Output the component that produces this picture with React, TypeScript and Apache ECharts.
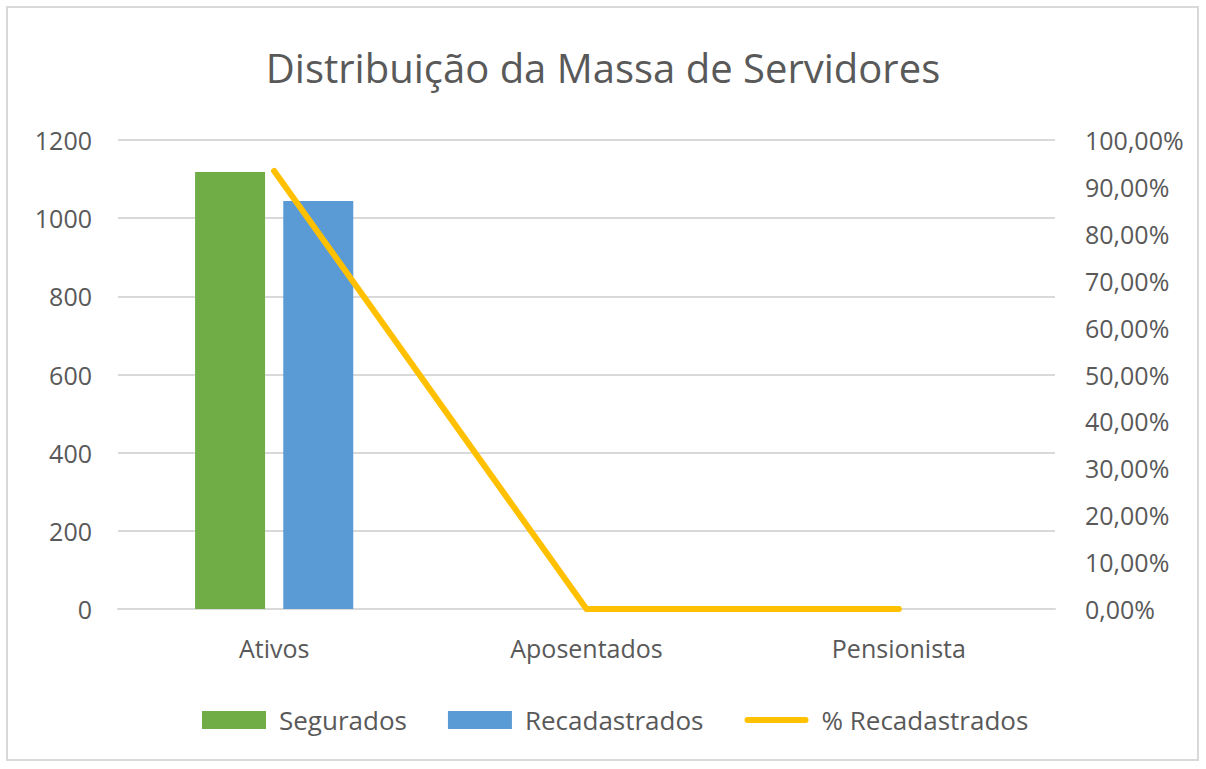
import React, { useEffect, useRef } from "react";
import * as echarts from "echarts";

const categories = ["Ativos", "Aposentados", "Pensionista"];
const segurados = [1118, 0, 0];
const recadastrados = [1044, 0, 0];
const pctRecadastrados = [93.4, 0, 0];
const leftTicks = { min: 0, max: 1200, interval: 200 };
const rightTicks = { min: 0, max: 100, interval: 10 };

const FONT = "'Open Sans', sans-serif";
const GRAY = "#595959";
const LBL = 25;

export default function App() {
  const ref = useRef<HTMLDivElement>(null);
  useEffect(() => {
    const chart = echarts.init(ref.current!, null, { renderer: "svg" });
    chart.setOption({
      animation: false,
      backgroundColor: "#ffffff",
      textStyle: { fontFamily: FONT, color: GRAY },
      title: {
        text: "Distribuição da Massa de Servidores",
        left: "center",
        top: 42,
        textStyle: { fontFamily: FONT, fontSize: 40, fontWeight: "normal", color: GRAY },
      },
      graphic: [
        {
          type: "rect",
          shape: { x: 7, y: 7, width: 1191, height: 753 },
          style: { fill: "none", stroke: "#d9d9d9", lineWidth: 2 },
          silent: true,
        },
      ],
      grid: { left: 118, right: 151, top: 140, bottom: 160 },
      legend: {
        bottom: 31,
        left: 197,
        itemWidth: 64,
        itemHeight: 18,
        itemGap: 41,
        textStyle: { fontFamily: FONT, fontSize: 26, color: GRAY, padding: [0, 0, 0, 8] },
        data: [
          { name: "Segurados", icon: "rect" },
          { name: "Recadastrados", icon: "rect" },
          {
            name: "% Recadastrados",
            icon: "path://M3,0 L61,0 A3,3 0 0 1 61,6 L3,6 A3,3 0 0 1 3,0 Z",
            itemStyle: { color: "#FFC000" },
          },
        ],
      },
      xAxis: {
        type: "category",
        data: categories,
        axisLine: { lineStyle: { color: "#d9d9d9", width: 2 } },
        axisTick: { show: false },
        axisLabel: { fontFamily: FONT, fontSize: LBL, color: GRAY, margin: 26 },
      },
      yAxis: [
        {
          type: "value",
          min: leftTicks.min,
          max: leftTicks.max,
          interval: leftTicks.interval,
          axisLine: { show: false },
          axisTick: { show: false },
          axisLabel: {
            fontFamily: FONT,
            fontSize: LBL,
            color: GRAY,
            margin: 26,
            formatter: (v: number) => String(v),
          },
          splitLine: { lineStyle: { color: "#d9d9d9", width: 2 } },
        },
        {
          type: "value",
          min: rightTicks.min,
          max: rightTicks.max,
          interval: rightTicks.interval,
          axisLine: { show: false },
          axisTick: { show: false },
          splitLine: { show: false },
          axisLabel: {
            fontFamily: FONT,
            fontSize: LBL,
            color: GRAY,
            margin: 30,
            formatter: (v: number) => v.toFixed(2).replace(".", ",") + "%",
          },
        },
      ],
      series: [
        {
          name: "Segurados",
          type: "bar",
          data: segurados,
          barWidth: 70,
          barGap: "26%",
          itemStyle: { color: "#70AD47" },
        },
        {
          name: "Recadastrados",
          type: "bar",
          data: recadastrados,
          barWidth: 70,
          itemStyle: { color: "#5B9BD5" },
        },
        {
          name: "% Recadastrados",
          type: "line",
          yAxisIndex: 1,
          data: pctRecadastrados,
          symbol: "none",
          itemStyle: { color: "#FFC000" },
          lineStyle: { color: "#FFC000", width: 6, cap: "round", join: "round" },
        },
      ],
    });
    return () => chart.dispose();
  }, []);
  return (
    <div
      ref={ref}
      style={{ position: "absolute", left: 0, top: 0, width: 1206, height: 769 }}
    />
  );
}
